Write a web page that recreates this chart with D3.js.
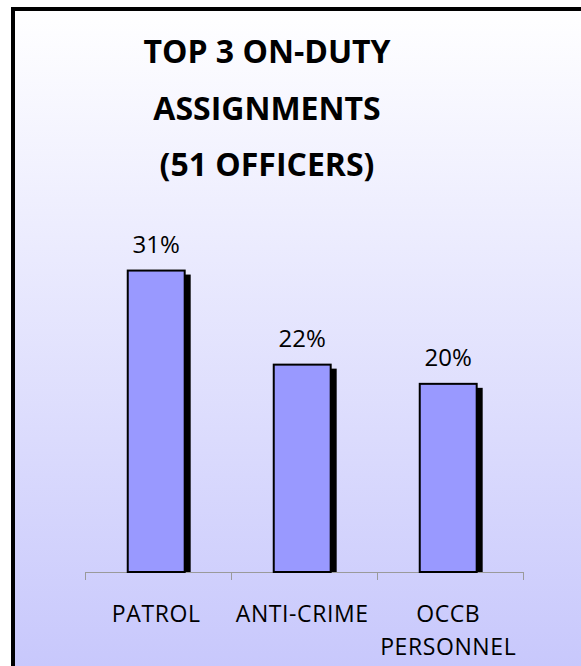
<!DOCTYPE html>
<html>
<head>
<meta charset="utf-8">
<script src="https://cdn.jsdelivr.net/npm/d3@7"></script>
<style>
  html, body { margin: 0; padding: 0; background: #ffffff; }
  svg { display: block; }
</style>
</head>
<body>
<svg id="chart" width="581" height="666"></svg>
<script>
// Data: share of the 51 officers in each on-duty assignment
const categories = ["PATROL", "ANTI-CRIME", "OCCB\nPERSONNEL"];
const shares = [0.314, 0.216, 0.196];
const titleLines = ["TOP 3 ON-DUTY", "ASSIGNMENTS", "(51 OFFICERS)"];

const W = 581, H = 666;
const svg = d3.select("#chart");

// Background panel with vertical white-to-lavender gradient
const defs = svg.append("defs");
const grad = defs.append("linearGradient")
  .attr("id", "bg").attr("x1", 0).attr("y1", 0).attr("x2", 0).attr("y2", 1);
grad.append("stop").attr("offset", "0%").attr("stop-color", "#ffffff");
grad.append("stop").attr("offset", "100%").attr("stop-color", "#c8c8fc");

const frameL = 13, frameT = 9;
svg.append("rect")
  .attr("x", frameL).attr("y", frameT)
  .attr("width", W - frameL).attr("height", H - frameT)
  .attr("fill", "url(#bg)");
svg.append("path")
  .attr("d", `M${frameL},${H} V${frameT} H${W}`)
  .attr("fill", "none").attr("stroke", "#000").attr("stroke-width", 4);

// Title
const title = svg.append("g")
  .attr("font-family", "'Open Sans', sans-serif")
  .attr("font-weight", "bold")
  .attr("font-size", 32)
  .attr("text-anchor", "middle")
  .attr("fill", "#000");
title.selectAll("text").data(titleLines).join("text")
  .attr("x", 267)
  .attr("y", (d, i) => 63 + i * 56.5)
  .text(d => d);

// Scales
const baseY = 572;
const x = d3.scaleBand()
  .domain(categories)
  .range([85, 523])
  .paddingInner(0.61)
  .paddingOuter(0.305)
  .align(0.48);
const y = d3.scaleLinear().domain([0, 0.35]).range([baseY, 236]);

// Axis: ticks sit at the category boundaries
const edge = d3.scaleLinear().domain([0, categories.length]).range([85, 523]);
const axis = svg.append("g")
  .attr("transform", `translate(0,${baseY})`)
  .call(d3.axisBottom(edge).ticks(categories.length).tickSize(8).tickFormat(""));
axis.selectAll("path, line").attr("stroke", "#9a9a9a").attr("stroke-width", 1);
axis.select(".domain").attr("d", `M85.5,8V0.5H523.5V8`);

// Bars with offset drop shadow
const shadowDx = 6, shadowDy = 4;
const bars = svg.append("g");
bars.selectAll("rect.shadow").data(shares).join("rect")
  .attr("class", "shadow")
  .attr("x", (d, i) => x(categories[i]) + shadowDx)
  .attr("y", d => y(d) + shadowDy)
  .attr("width", x.bandwidth())
  .attr("height", d => baseY - y(d) - shadowDy)
  .attr("fill", "#000");
bars.selectAll("rect.bar").data(shares).join("rect")
  .attr("class", "bar")
  .attr("x", (d, i) => x(categories[i]))
  .attr("y", d => y(d))
  .attr("width", x.bandwidth())
  .attr("height", d => baseY - y(d))
  .attr("fill", "#9999ff")
  .attr("stroke", "#000")
  .attr("stroke-width", 2);

// Value labels
const fmt = d3.format(".0%");
svg.append("g")
  .attr("font-family", "'Open Sans', sans-serif")
  .attr("font-size", 24)
  .attr("text-anchor", "middle")
  .attr("fill", "#000")
  .selectAll("text").data(shares).join("text")
  .attr("x", (d, i) => x(categories[i]) + x.bandwidth() / 2)
  .attr("y", d => y(d) - 18)
  .text(d => fmt(d));

// Category labels (multi-line where needed)
const cat = svg.append("g")
  .attr("font-family", "'Open Sans', sans-serif")
  .attr("font-size", 23)
  .attr("letter-spacing", 0.6)
  .attr("text-anchor", "middle")
  .attr("fill", "#000");
categories.forEach(c => {
  const t = cat.append("text")
    .attr("x", x(c) + x.bandwidth() / 2)
    .attr("y", 622);
  c.split("\n").forEach((line, j) => {
    t.append("tspan")
      .attr("x", x(c) + x.bandwidth() / 2)
      .attr("dy", j === 0 ? 0 : 33)
      .text(line);
  });
});
</script>
</body>
</html>
